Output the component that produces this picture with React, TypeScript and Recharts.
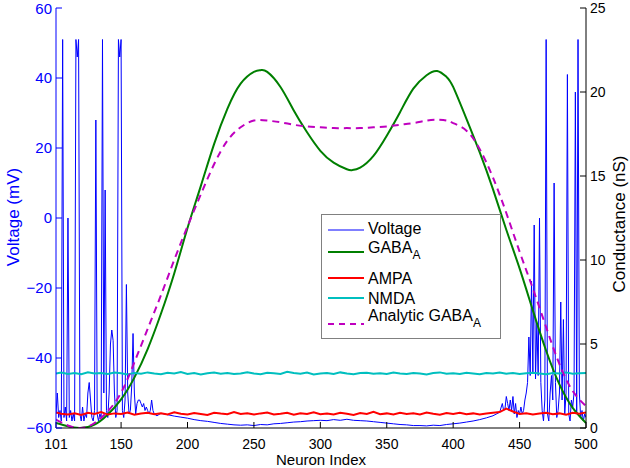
import { LineChart, Line, XAxis, YAxis } from 'recharts'

const FONT = '"Liberation Sans", Arial, Helvetica, sans-serif'

// tick labels
const xTicks = [101, 150, 200, 250, 300, 350, 400, 450, 500]
const vTicks = [-60, -40, -20, 0, 20, 40, 60]
const gTicks = [0, 5, 10, 15, 20, 25]

// membrane voltage (mV) per neuron index
const voltage: [number, number][] = [
  [101, -56], [102, -50], [103, -57], [104, -55], [105, -58], [106, 51], [107, -57], [108, -54],
  [109, -58], [110, 0], [111, -57], [112, -55], [113, -58], [114, -56], [115, -58], [116, 51],
  [117, 46], [118, 51], [119, -56], [120, -58], [121, -54], [122, -58], [123, -56], [124, -57],
  [125, -50], [126, -47], [127, -52], [128, -57], [129, -58], [130, -55], [131, 28], [132, -56],
  [133, -58], [134, -56], [135, -57], [136, 51], [137, -50], [138, 8], [139, -55], [140, -57],
  [141, -50], [142, -36], [143, -32], [144, -35], [145, -50], [146, -57], [147, -55], [148, 51],
  [149, 46], [150, 51], [151, -55], [152, -57], [153, -52], [154, -19], [155, -50], [156, -56],
  [157, -55], [158, -48], [159, -33], [160, -50], [161, -56], [162, -53], [163, -52], [164, -52],
  [165, -53], [166, -54], [167, -53], [168, -55], [169, -54], [170, -55], [171, -56], [172, -55],
  [173, -52], [174, -55], [175, -56], [177, -56.5], [180, -55.8],
  [185, -56.2], [190, -56.6], [195, -56.9], [200, -57.2], [205, -57.6], [210, -57.9], [215, -58.1],
  [220, -58.4], [225, -58.7], [230, -58.9], [235, -59.1], [240, -59.2], [245, -59.1], [250, -59.3],
  [255, -59.0], [260, -59.1], [265, -58.8], [270, -58.7], [275, -58.5], [280, -58.3], [285, -58.2],
  [290, -58.0], [295, -57.9], [300, -57.8], [305, -57.9], [310, -57.6], [315, -57.8], [320, -57.5],
  [325, -57.8], [330, -57.9], [335, -58.0], [340, -58.2], [345, -58.4], [350, -58.6], [355, -58.8],
  [360, -59.0], [365, -59.1], [370, -59.3], [375, -59.3], [380, -59.4], [385, -59.2], [390, -59.3],
  [395, -59.0], [400, -58.8], [405, -58.6], [410, -58.3], [415, -58.0], [420, -57.6], [425, -57.1],
  [430, -56.5], [435, -55.5],
  [437, -53], [438, -55], [439, -54.5], [440, -51], [441, -53], [442, -55], [443, -52], [444, -55],
  [445, -51], [446, -56], [447, -53], [448, -57], [449, -55], [450, -56], [451, -54], [452, -56],
  [453, -55], [454, -52], [455, -50], [456, -47], [457, -34], [458, -45], [459, -18], [460, -44],
  [461, -2], [462, -46], [463, -30], [464, -45], [465, 0], [466, -47], [467, -55], [468, -58],
  [469, -52], [470, 51], [471, -56], [472, -58], [473, -50], [474, -45], [475, -52], [476, 10],
  [477, -47], [478, -57], [479, -55], [480, -50], [481, -24], [482, -52], [483, -29], [484, -56],
  [485, -50], [486, 41], [487, -56], [488, -58], [489, -52], [490, -54], [491, -50], [492, 36],
  [493, -56], [494, 51], [495, -50], [496, -57], [497, -55], [498, -58], [499, -56], [500, -57],
]

// GABA_A conductance (nS), simulated
const gabaA: [number, number][] = [
  [101, 0.3], [110, 0.1], [119, 0.0], [130, 0.2], [140, 0.8], [150, 1.7], [160, 3.0], [170, 4.7],
  [180, 6.8], [190, 9.2], [200, 11.9], [210, 14.4], [220, 16.9], [230, 19.0], [240, 20.5],
  [250, 21.2], [255, 21.3], [260, 21.2], [270, 20.3], [280, 18.9], [290, 17.6], [300, 16.5],
  [310, 15.8], [320, 15.4], [324, 15.35], [330, 15.5], [340, 16.2], [350, 17.4], [360, 18.8],
  [370, 20.2], [380, 21.0], [388, 21.25], [395, 20.9], [400, 20.3], [410, 18.4], [420, 16.4],
  [430, 14.2], [440, 11.8], [450, 9.5], [460, 7.0], [470, 4.6], [480, 2.6], [490, 1.2], [500, 0.3],
]

// analytic GABA_A conductance (nS)
const analyticGabaA: [number, number][] = [
  [101, 0.5], [110, 0.15], [120, 0.0], [130, 0.3], [140, 1.0], [150, 2.1], [160, 3.9], [170, 5.9],
  [180, 7.9], [190, 10.0], [200, 12.0], [210, 13.9], [220, 15.7], [230, 17.1], [240, 17.9],
  [250, 18.3], [260, 18.3], [270, 18.2], [280, 18.05], [290, 17.95], [300, 17.9], [310, 17.85],
  [320, 17.85], [330, 17.85], [340, 17.9], [350, 17.95], [360, 18.05], [370, 18.15], [380, 18.3],
  [388, 18.35], [395, 18.3], [400, 18.15], [410, 17.7], [420, 16.6], [430, 14.9],
  [440, 12.8], [450, 10.5], [460, 8.3], [470, 6.0], [480, 3.8], [490, 2.2], [500, 1.3],
]

// sampled neuron indices for the noisy synaptic conductances
const neuronIdx = [
  101, 105, 110, 115, 120, 125, 130, 135, 140, 145, 150, 155, 160, 165, 170, 175, 180, 185, 190, 195,
  200, 205, 210, 215, 220, 225, 230, 235, 240, 245, 250, 255, 260, 265, 270, 275, 280, 285, 290, 295,
  300, 305, 310, 315, 320, 325, 330, 335, 340, 345, 350, 355, 360, 365, 370, 375, 380, 385, 390, 395,
  400, 405, 410, 415, 420, 425, 430, 435, 440, 445, 450, 455, 460, 465, 470, 475, 480, 485, 490, 495,
  500,
]

const ampa = [
  0.92, 0.85, 0.80, 0.88, 0.78, 0.90, 0.83, 0.95, 0.80, 0.87,
  0.84, 0.92, 0.79, 0.86, 0.90, 0.82, 0.88, 0.81, 0.93, 0.85,
  0.80, 0.89, 0.84, 0.78, 0.91, 0.86, 0.82, 0.95, 0.83, 0.88,
  0.80, 0.87, 0.92, 0.81, 0.85, 0.90, 0.79, 0.88, 0.84, 0.93,
  0.82, 0.86, 0.80, 0.91, 0.85, 0.78, 0.89, 0.83, 0.96, 0.82,
  0.87, 0.80, 0.90, 0.84, 0.88, 0.81, 0.92, 0.85, 0.79, 0.89,
  0.84, 0.90, 0.82, 0.87, 0.80, 0.86, 0.91, 0.95, 1.15, 0.98,
  0.83, 0.88, 0.80, 0.86, 0.91, 0.82, 0.87, 0.79, 0.90, 0.85,
  0.92,
]

const nmda = [
  3.25, 3.30, 3.22, 3.28, 3.20, 3.32, 3.24, 3.27, 3.21, 3.30,
  3.26, 3.19, 3.28, 3.23, 3.31, 3.25, 3.20, 3.29, 3.24, 3.33,
  3.22, 3.27, 3.18, 3.26, 3.30, 3.23, 3.28, 3.21, 3.25, 3.32,
  3.24, 3.20, 3.29, 3.26, 3.22, 3.35, 3.27, 3.23, 3.30, 3.19,
  3.25, 3.28, 3.22, 3.31, 3.24, 3.20, 3.27, 3.29, 3.23, 3.26,
  3.21, 3.30, 3.25, 3.22, 3.28, 3.24, 3.19, 3.27, 3.31, 3.23,
  3.26, 3.22, 3.29, 3.25, 3.20, 3.28, 3.24, 3.30, 3.23, 3.27,
  3.21, 3.26, 3.29, 3.24, 3.20, 3.28, 3.25, 3.31, 3.23, 3.26, 3.27,
]

const toPts = (arr: [number, number][]) => arr.map(([x, y]) => ({ x, y }))
const voltageData = toPts(voltage)
const gabaData = toPts(gabaA)
const analyticData = toPts(analyticGabaA)
const ampaData = neuronIdx.map((x, i) => ({ x, y: ampa[i] }))
const nmdaData = neuronIdx.map((x, i) => ({ x, y: nmda[i] }))

const BLUE = '#0000ff'
const GREEN = '#007f00'
const RED = '#ff0000'
const CYAN = '#00bfbf'
const MAGENTA = '#bf00bf'

const minus = (v: number) => String(v).replace('-', '\u2212')

// y = legend sample line, top = text line box (relative to legend box)
const legendRows = [
  { label: 'Voltage', sub: '', color: BLUE, width: 1, dash: undefined, y: 15, top: 6 },
  { label: 'GABA', sub: 'A', color: GREEN, width: 2, dash: undefined, y: 37, top: 25 },
  { label: 'AMPA', sub: '', color: RED, width: 2, dash: undefined, y: 63, top: 56 },
  { label: 'NMDA', sub: '', color: CYAN, width: 2, dash: undefined, y: 83, top: 76 },
  { label: 'Analytic GABA', sub: 'A', color: MAGENTA, width: 2, dash: '6 5', y: 109, top: 93 },
]

function LegendBox() {
  return (
    <div
      style={{
        position: 'absolute',
        left: 321,
        top: 214,
        width: 178,
        height: 123,
        border: '1px solid #808080',
        background: '#fff',
        fontFamily: FONT,
        fontSize: 16,
        color: '#000',
      }}
    >
      <svg width={178} height={123} style={{ position: 'absolute', left: 0, top: 0 }}>
        {legendRows.map((r) => (
          <line
            key={r.label}
            x1={6}
            x2={42}
            y1={r.y}
            y2={r.y}
            stroke={r.color}
            strokeWidth={r.width}
            strokeDasharray={r.dash}
          />
        ))}
      </svg>
      {legendRows.map((r) => (
        <div
          key={r.label}
          style={{ position: 'absolute', left: 46, top: r.top, height: 15, lineHeight: '15px', whiteSpace: 'nowrap' }}
        >
          {r.label}
          {r.sub && <span style={{ fontSize: 12, position: 'relative', top: 6, lineHeight: '10px' }}>{r.sub}</span>}
        </div>
      ))}
    </div>
  )
}

export default function App() {
  return (
    <div style={{ position: 'absolute', left: 0, top: 0, width: 630, height: 468, background: '#fff' }}>
      <LineChart width={630} height={468} margin={{ top: 8, right: 0, bottom: 0, left: 0 }}>
        <XAxis
          type="number"
          dataKey="x"
          domain={[101, 500]}
          ticks={xTicks}
          allowDataOverflow
          height={40}
          stroke="#000"
          tickSize={-6}
          tickMargin={17}
          tick={{ fill: '#000', fontSize: 14, fontFamily: FONT }}
        />
        <YAxis
          yAxisId="v"
          orientation="left"
          width={56}
          domain={[-60, 60]}
          ticks={vTicks}
          allowDataOverflow
          stroke={BLUE}
          tickSize={-6}
          tickMargin={10}
          tickFormatter={minus}
          tick={{ fill: BLUE, fontSize: 15, fontFamily: FONT }}
        />
        <YAxis
          yAxisId="g"
          orientation="right"
          width={44}
          domain={[0, 25]}
          ticks={gTicks}
          allowDataOverflow
          stroke="#000"
          tickSize={-6}
          tickMargin={10}
          tick={{ fill: '#000', fontSize: 14, fontFamily: FONT }}
        />
        <Line yAxisId="v" data={voltageData} dataKey="y" type="linear" stroke={BLUE} strokeWidth={1} dot={false} activeDot={false} isAnimationActive={false} />
        <Line yAxisId="g" data={gabaData} dataKey="y" type="natural" stroke={GREEN} strokeWidth={2} dot={false} activeDot={false} isAnimationActive={false} />
        <Line yAxisId="g" data={ampaData} dataKey="y" type="linear" stroke={RED} strokeWidth={2} dot={false} activeDot={false} isAnimationActive={false} />
        <Line yAxisId="g" data={nmdaData} dataKey="y" type="linear" stroke={CYAN} strokeWidth={2} dot={false} activeDot={false} isAnimationActive={false} />
        <Line yAxisId="g" data={analyticData} dataKey="y" type="natural" stroke={MAGENTA} strokeWidth={2} strokeDasharray="7 5" dot={false} activeDot={false} isAnimationActive={false} />
      </LineChart>
      <div style={{ position: 'absolute', left: 0, top: 452, width: 642, textAlign: 'center', fontFamily: FONT, fontSize: 15, lineHeight: '15px' }}>
        Neuron Index
      </div>
      <div
        style={{
          position: 'absolute', left: 14, top: 217, transform: 'translate(-50%, -50%) rotate(-90deg)',
          whiteSpace: 'nowrap', fontFamily: FONT, fontSize: 17, color: BLUE, lineHeight: '18px',
        }}
      >
        Voltage (mV)
      </div>
      <div
        style={{
          position: 'absolute', left: 620, top: 224, transform: 'translate(-50%, -50%) rotate(-90deg)',
          whiteSpace: 'nowrap', fontFamily: FONT, fontSize: 17, color: '#000', lineHeight: '18px',
        }}
      >
        Conductance (nS)
      </div>
      <LegendBox />
    </div>
  )
}
